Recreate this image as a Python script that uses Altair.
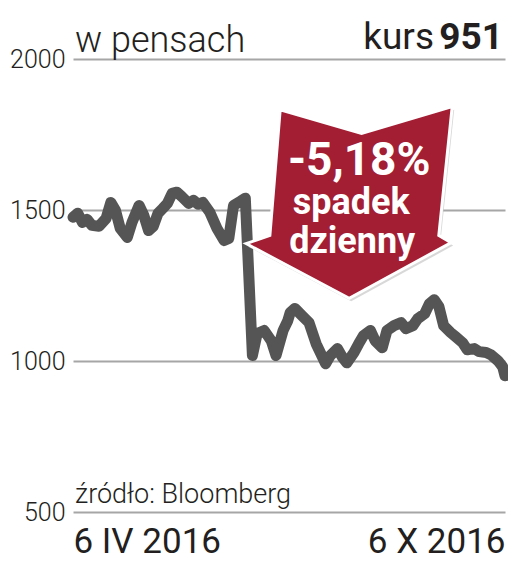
import altair as alt
import pandas as pd

# ---- data ----
dates = [
    "2016-04-06", "2016-04-08", "2016-04-10", "2016-04-12", "2016-04-14", "2016-04-17",
    "2016-04-20", "2016-04-22", "2016-04-24", "2016-04-26", "2016-04-29", "2016-05-01",
    "2016-05-04", "2016-05-06", "2016-05-08", "2016-05-10", "2016-05-12", "2016-05-14",
    "2016-05-16", "2016-05-18", "2016-05-20", "2016-05-22", "2016-05-25", "2016-05-27",
    "2016-05-29", "2016-05-31", "2016-06-03", "2016-06-06", "2016-06-09", "2016-06-11",
    "2016-06-13", "2016-06-16", "2016-06-18", "2016-06-21", "2016-06-23", "2016-06-26",
    "2016-06-29", "2016-07-01", "2016-07-04", "2016-07-06", "2016-07-07", "2016-07-09",
    "2016-07-12", "2016-07-15", "2016-07-18", "2016-07-22", "2016-07-24", "2016-07-27",
    "2016-07-29", "2016-07-31", "2016-08-03", "2016-08-05", "2016-08-07", "2016-08-10",
    "2016-08-12", "2016-08-15", "2016-08-17", "2016-08-20", "2016-08-23", "2016-08-25",
    "2016-08-28", "2016-08-30", "2016-09-02", "2016-09-04", "2016-09-06", "2016-09-08",
    "2016-09-10", "2016-09-13", "2016-09-15", "2016-09-18", "2016-09-20", "2016-09-23",
    "2016-09-25", "2016-09-28", "2016-09-30", "2016-10-03", "2016-10-05", "2016-10-06",
]
prices = [
    1476, 1489, 1459, 1469, 1449, 1446,
    1472, 1525, 1499, 1439, 1409, 1459,
    1515, 1482, 1432, 1446, 1489, 1505,
    1522, 1555, 1559, 1545, 1522, 1532,
    1519, 1525, 1492, 1439, 1399, 1406,
    1515, 1529, 1539, 1018, 1091, 1101,
    1067, 1018, 1101, 1134, 1160, 1174,
    1150, 1127, 1057, 991, 1018, 1041,
    1014, 994, 1028, 1057, 1084, 1101,
    1067, 1044, 1101, 1117, 1127, 1107,
    1117, 1140, 1157, 1190, 1203, 1180,
    1117, 1094, 1081, 1061, 1037, 1041,
    1031, 1028, 1021, 1001, 981, 951,
]

y_ticks = [500, 1000, 1500, 2000]
x_tick_labels = ["6 IV 2016", "6 X 2016"]
unit_label = ["w pensach"]
kurs_label = ["kurs"]
kurs_value = ["951"]
source_label = ["źródło: Bloomberg"]
callout_lines = ["-5,18%", "spadek", "dzienny"]
callout_date = ["2016-08-01"]
callout_value = [1525]

# ---- styles ----
FONT = "Roboto"
TEXT = "#231f20"
GRID = "#a6a6a6"
LINE = "#555555"
RED = "#a31d33"
ARROW_PATH = ("M-0.67,-0.9 L0.12,-0.67 L1,-0.93 L0.87,0.32 L0.99,0.39 "
              "L0,0.93 L-1,0.4 L-0.77,0.32 Z")

df = pd.DataFrame({"date": dates, "price": prices})

start = alt.DateTime(year=2016, month=4, date=6, utc=True)
end = alt.DateTime(year=2016, month=10, date=6, utc=True)

x_enc = alt.X(
    "date:T",
    scale=alt.Scale(domain=[start, end]),
    axis=alt.Axis(
        values=[start, end],
        labelExpr=f"utcmonth(datum.value) < 6 ? '{x_tick_labels[0]}' : '{x_tick_labels[1]}'",
        labelFlush=True,
        grid=False, domain=False, ticks=False, title=None,
        labelFont=FONT, labelFontSize=35, labelFontWeight=400,
        labelColor=TEXT, labelPadding=12,
    ),
)
y_enc = alt.Y(
    "price:Q",
    scale=alt.Scale(domain=[500, 2000], nice=False, zero=False),
    axis=alt.Axis(
        values=y_ticks, format="d", grid=True, gridColor=GRID, gridWidth=2, gridOpacity=1,
        domain=False, ticks=False, title=None,
        labelFont=FONT, labelFontSize=25, labelFontWeight=300,
        labelColor=TEXT, labelPadding=8, labelBaseline="middle",
    ),
)

line = alt.Chart(df).mark_line(
    color=LINE, strokeWidth=11, strokeJoin="round", strokeCap="round"
).encode(x=x_enc, y=y_enc)

cdf = pd.DataFrame({"date": callout_date, "price": callout_value})
arrow = alt.Chart(cdf).mark_point(
    shape=ARROW_PATH, size=42436, filled=True, fill=RED, fillOpacity=1,
    stroke="white", strokeWidth=3, opacity=1
).encode(x="date:T", y="price:Q")

shadow = alt.Chart(cdf).mark_point(
    shape=ARROW_PATH, size=42436, filled=True, fill="#c8c8c8", fillOpacity=0.7,
    opacity=1, xOffset=2, yOffset=3
).encode(x="date:T", y="price:Q")

t1 = alt.Chart(cdf).mark_text(
    text=callout_lines[0], font=FONT, fontWeight="bold", fontSize=46,
    color="white", dx=10, dy=-27, baseline="alphabetic"
).encode(x="date:T", y="price:Q")
t2 = alt.Chart(cdf).mark_text(
    text=callout_lines[1], font=FONT, fontWeight="bold", fontSize=36,
    color="white", dx=2, dy=12, baseline="alphabetic"
).encode(x="date:T", y="price:Q")
t3 = alt.Chart(cdf).mark_text(
    text=callout_lines[2], font=FONT, fontWeight="bold", fontSize=36,
    color="white", dx=3, dy=51, baseline="alphabetic"
).encode(x="date:T", y="price:Q")

unit = alt.Chart(pd.DataFrame({"t": unit_label})).mark_text(
    font=FONT, fontWeight=300, fontSize=36, color=TEXT, align="left", baseline="alphabetic"
).encode(text="t:N", x=alt.value(2), y=alt.value(-7))

kurs = alt.Chart(pd.DataFrame({"t": kurs_label})).mark_text(
    font=FONT, fontWeight=400, fontSize=37, color=TEXT, align="right", baseline="alphabetic"
).encode(text="t:N", x=alt.value(361), y=alt.value(-10))

kval = alt.Chart(pd.DataFrame({"t": kurs_value})).mark_text(
    font=FONT, fontWeight="bold", fontSize=37, color=TEXT, align="right", baseline="alphabetic"
).encode(text="t:N", x=alt.value(430), y=alt.value(-10))

source = alt.Chart(pd.DataFrame({"t": source_label})).mark_text(
    font=FONT, fontWeight=300, fontSize=27, color=TEXT, align="left", baseline="alphabetic"
).encode(text="t:N", x=alt.value(2), y=alt.value(-9 + 453))

chart = alt.layer(
    line, shadow, arrow, t1, t2, t3, unit, kurs, kval, source
).properties(
    width=432, height=453,
    autosize=alt.AutoSizeParams(type="none"),
    padding={"left": 65, "top": 51, "right": 3, "bottom": 50},
).configure_view(stroke=None)

chart.save("out.html", embed_options={"renderer": "svg", "actions": False})
